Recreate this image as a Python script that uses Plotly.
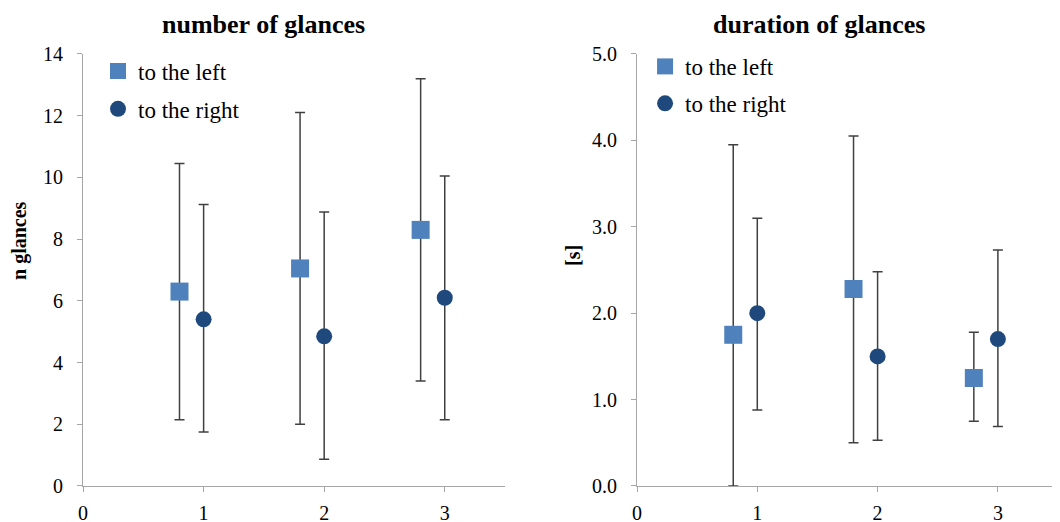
import plotly.graph_objects as go

# ---- data ----
x_left = [0.8, 1.8, 2.8]
x_right = [1, 2, 3]

n_left = [6.3, 7.05, 8.3]
n_left_hi = [10.45, 12.1, 13.2]
n_left_lo = [2.15, 2.0, 3.4]
n_right = [5.4, 4.85, 6.1]
n_right_hi = [9.12, 8.88, 10.05]
n_right_lo = [1.75, 0.87, 2.15]

d_left = [1.75, 2.28, 1.25]
d_left_hi = [3.95, 4.05, 1.78]
d_left_lo = [0.0, 0.5, 0.75]
d_right = [2.0, 1.5, 1.7]
d_right_hi = [3.1, 2.48, 2.73]
d_right_lo = [0.88, 0.53, 0.69]

series_names = ["to the left", "to the right"]
titles = ["number of glances", "duration of glances"]
y_titles = ["n glances", "[s]"]

C_LEFT = "#4F81BD"
C_RIGHT = "#1F497D"
FONT = "Liberation Serif, Times New Roman, serif"


def err(vals, hi, lo):
    plus = [h - v for h, v in zip(hi, vals)]
    minus = [v - l for v, l in zip(vals, lo)]
    return dict(type="data", symmetric=False, array=plus, arrayminus=minus,
                color="#404040", thickness=1.5, width=5)


fig = go.Figure()

panels = [
    ("x", "y", "legend", n_left, n_left_hi, n_left_lo, n_right, n_right_hi, n_right_lo),
    ("x2", "y2", "legend2", d_left, d_left_hi, d_left_lo, d_right, d_right_hi, d_right_lo),
]
for xa, ya, lg, lv, lh, ll, rv, rh, rl in panels:
    fig.add_trace(go.Scatter(
        x=x_left, y=lv, mode="markers", name=series_names[0], xaxis=xa, yaxis=ya,
        legend=lg, legendgroup=lg + "a",
        marker=dict(symbol="square", size=18, color=C_LEFT, line=dict(width=0)),
        error_y=err(lv, lh, ll), cliponaxis=False))
    fig.add_trace(go.Scatter(
        x=x_right, y=rv, mode="markers", name=series_names[1], xaxis=xa, yaxis=ya,
        legend=lg, legendgroup=lg + "b",
        marker=dict(symbol="circle", size=16, color=C_RIGHT, line=dict(width=0)),
        error_y=err(rv, rh, rl), cliponaxis=False))

axis_common = dict(showgrid=False, zeroline=False, showline=True, linecolor="#A6A6A6",
                   linewidth=1, ticks="outside", tickcolor="#A6A6A6", ticklen=5,
                   automargin=False,
                   tickfont=dict(family=FONT, size=20, color="#000000"))
xax = dict(ticklabelstandoff=4, **axis_common)
yax = dict(ticklabelstandoff=10, **axis_common)

# the page body has an 8px margin, so figure coords are shifted by 8px
fig.update_layout(
    width=1060, height=522,
    margin=dict(l=0, r=0, t=0, b=0, autoexpand=False),
    paper_bgcolor="white", plot_bgcolor="white",
    font=dict(family=FONT, color="#000000"),
    showlegend=True,
    xaxis=dict(domain=[0.0708, 0.4689], range=[0, 3.5], tickvals=[0, 1, 2, 3],
               anchor="y", **xax),
    yaxis=dict(domain=[0.0843, 0.9119], range=[0, 14], tickvals=list(range(0, 15, 2)),
               anchor="x", **yax),
    xaxis2=dict(domain=[0.5934, 0.9906], range=[0, 3.5], tickvals=[0, 1, 2, 3],
                anchor="y2", **xax),
    yaxis2=dict(domain=[0.0843, 0.9119], range=[0, 5], tickvals=[0, 1, 2, 3, 4, 5],
                tickformat=".1f", anchor="x2", **yax),
    legend=dict(x=0.0849, y=0.9205, xanchor="left", yanchor="top", bgcolor="rgba(0,0,0,0)",
                font=dict(family=FONT, size=23), tracegroupgap=5, itemwidth=30),
    legend2=dict(x=0.601, y=0.9292, xanchor="left", yanchor="top", bgcolor="rgba(0,0,0,0)",
                 font=dict(family=FONT, size=23), tracegroupgap=4, itemwidth=30),
    annotations=[
        dict(text="<b>" + titles[0] + "</b>", x=0.2415, y=1.0, xref="paper", yref="paper",
             xanchor="center", yanchor="top",
             showarrow=False, font=dict(family=FONT, size=26)),
        dict(text="<b>" + titles[1] + "</b>", x=0.765, y=1.0, xref="paper", yref="paper",
             xanchor="center", yanchor="top",
             showarrow=False, font=dict(family=FONT, size=26)),
        dict(text="<b>" + y_titles[0] + "</b>", x=0.0113, y=0.5556, xref="paper", yref="paper",
             xanchor="center", yanchor="middle", textangle=-90,
             showarrow=False, font=dict(family=FONT, size=20)),
        dict(text="<b>" + y_titles[1] + "</b>", x=0.533, y=0.5268, xref="paper", yref="paper",
             xanchor="center", yanchor="middle", textangle=-90,
             showarrow=False, font=dict(family=FONT, size=20)),
    ],
)

fig.write_html("out.html")
